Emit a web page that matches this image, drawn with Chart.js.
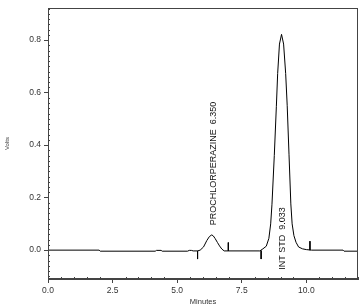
<!DOCTYPE html>
<html>
<head>
<meta charset="utf-8">
<script src="https://cdn.jsdelivr.net/npm/chart.js@4/dist/chart.umd.min.js"></script>
<style>
html,body{margin:0;padding:0;background:#fff;}
#wrap{width:360px;height:307px;}
</style>
</head>
<body>
<div id="wrap"><canvas id="c" width="360" height="307"></canvas></div>
<script>
// Chromatogram trace (minutes, volts)
const traceMinutes = [0.00, 1.98, 2.02, 4.15, 4.20, 4.38, 4.42, 5.40, 5.47, 5.55, 5.62, 5.79,
  5.89, 6.02, 6.15, 6.25, 6.34, 6.40, 6.47, 6.56, 6.64, 6.73, 6.82,
  8.20, 8.32, 8.45, 8.55, 8.62, 8.67, 8.76, 8.84, 8.89, 8.96, 9.04,
  9.12, 9.20, 9.26, 9.33, 9.40, 9.45, 9.52, 9.60, 9.70, 9.85, 10.00, 10.20,
  11.42, 11.46, 12.00];
const traceVolts = [0.000, 0.000, -0.004, -0.004, -0.001, -0.001, -0.004, -0.004, -0.001, -0.001, -0.003, -0.003,
  0.000, 0.012, 0.037, 0.052, 0.058, 0.054, 0.044, 0.029, 0.016, 0.004, -0.003,
  -0.003, 0.005, 0.015, 0.045, 0.100, 0.175, 0.361, 0.548, 0.673, 0.785, 0.822,
  0.785, 0.673, 0.550, 0.363, 0.176, 0.100, 0.055, 0.030, 0.012, 0.005, 0.002, 0.000,
  0.000, -0.004, -0.004];

// Peak start/end integration markers
const markerMinutes = [5.79, 6.98, 8.25, 10.14];
const markerFrom = [-0.003, 0.029, -0.002, 0.034];
const markerTo = [-0.034, -0.003, -0.034, 0.000];

// Peak labels
const peakMinutes = [6.35, 9.033];
const peakLabels = ["PROCHLORPERAZINE  6.350", "INT STD  9.033"];
const peakLabelStart = [0.095, -0.075];

const xTicksMin = 0, xTicksMax = 12, xStep = 2.5;
const yMin = -0.11, yMax = 0.922, yStep = 0.2;

const tracePts = traceMinutes.map((t, i) => ({x: t, y: traceVolts[i]}));
const markerPts = [];
markerMinutes.forEach((t, i) => {
  markerPts.push({x: t, y: markerFrom[i]});
  markerPts.push({x: t, y: markerTo[i]});
  markerPts.push({x: t, y: null});
});

const axisColor = '#444';
const textColor = '#333';
const fam = '"Liberation Sans", Arial, sans-serif';

const framePlugin = {
  id: 'frame',
  afterDraw(chart) {
    const {ctx, chartArea: a, scales} = chart;
    ctx.save();
    ctx.strokeStyle = axisColor;
    ctx.lineWidth = 1;
    ctx.strokeRect(Math.round(a.left) + 0.5, Math.round(a.top) + 0.5,
      Math.round(a.right - a.left) - 1, Math.round(a.bottom - a.top) - 1);
    // minor ticks
    ctx.beginPath();
    const xs = scales.x, ys = scales.y;
    for (let i = 0; i <= 24; i++) {
      const v = i * 0.5;
      if (i % 5 === 0) continue;
      const px = Math.round(xs.getPixelForValue(v)) + 0.5;
      ctx.moveTo(px, a.bottom);
      ctx.lineTo(px, a.bottom - 2);
    }
    for (let i = -5; i <= 46; i++) {
      const v = i * 0.02;
      if (i % 10 === 0) continue;
      const py = Math.round(ys.getPixelForValue(v)) + 0.5;
      if (py < a.top || py > a.bottom) continue;
      ctx.moveTo(a.left, py);
      ctx.lineTo(a.left + 2, py);
    }
    ctx.stroke();
    ctx.restore();
  },
  afterDatasetsDraw(chart) {
    const {ctx, scales} = chart;
    ctx.save();
    ctx.fillStyle = '#111';
    ctx.font = '9px ' + fam;
    ctx.textAlign = 'left';
    ctx.textBaseline = 'middle';
    peakMinutes.forEach((t, i) => {
      const px = scales.x.getPixelForValue(t) + 1.5;
      const py = scales.y.getPixelForValue(peakLabelStart[i]);
      ctx.save();
      ctx.translate(px, py);
      ctx.rotate(-Math.PI / 2);
      ctx.fillText(peakLabels[i], 0, 0);
      ctx.restore();
    });
    ctx.restore();
  }
};

new Chart(document.getElementById('c'), {
  type: 'scatter',
  data: {
    datasets: [
      {data: tracePts, showLine: true, borderColor: '#000', borderWidth: 1, pointRadius: 0, tension: 0, fill: false},
      {data: markerPts, showLine: true, spanGaps: false, borderColor: '#000', borderWidth: 1, pointRadius: 0, fill: false}
    ]
  },
  options: {
    responsive: false,
    animation: false,
    layout: {padding: {top: 3, right: 2, left: 0, bottom: 0}},
    plugins: {legend: {display: false}, tooltip: {enabled: false}},
    scales: {
      x: {
        type: 'linear', min: xTicksMin, max: xTicksMax,
        ticks: {stepSize: xStep, includeBounds: false, color: textColor, font: {size: 8.5, family: fam}, padding: 3,
          maxRotation: 0, callback: v => Number(v).toFixed(1)},
        grid: {drawOnChartArea: false, drawTicks: true, tickLength: 4, color: axisColor},
        border: {color: axisColor},
        title: {display: true, text: 'Minutes', color: textColor, font: {size: 7.5, family: fam}, padding: {top: 0, bottom: 1}},
        afterFit: s => { s.height = 28; }
      },
      y: {
        type: 'linear', min: yMin, max: yMax,
        ticks: {stepSize: yStep, includeBounds: false, color: textColor, font: {size: 8.5, family: fam}, padding: 3,
          callback: v => Number(v).toFixed(1)},
        grid: {drawOnChartArea: false, drawTicks: true, tickLength: 4, color: axisColor},
        border: {color: axisColor},
        title: {display: true, text: 'Volts', color: textColor, font: {size: 6, family: fam}, padding: {top: 4, bottom: 0}},
        afterFit: s => { s.width = 48; }
      }
    }
  },
  plugins: [framePlugin]
});
</script>
</body>
</html>
